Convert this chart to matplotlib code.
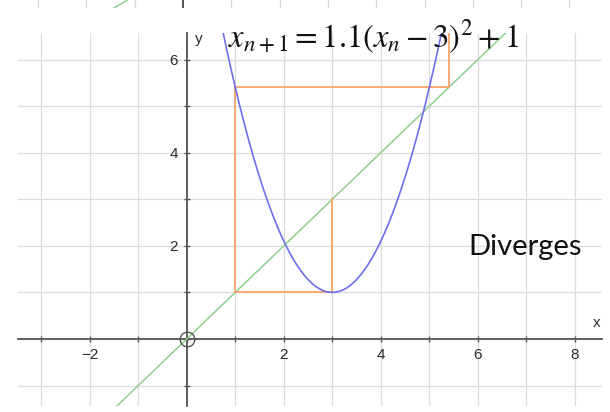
import numpy as np
import matplotlib.pyplot as plt
from matplotlib.ticker import MultipleLocator, FuncFormatter

# map x_{n+1} = a (x_n - h)^2 + k
a = 1.1
h = 3.0
k = 1.0
x_start = 3.0
n_steps = 3

xlim = (-3.48, 8.56)
ylim = (-1.44, 6.57)

def f(x):
    return a * (x - h) ** 2 + k

# cobweb path
cx = [x_start]
cy = [x_start]
xn = x_start
for i in range(n_steps):
    yn = f(xn)
    cx.append(xn)
    cy.append(yn)
    cx.append(yn)
    cy.append(yn)
    xn = yn
cx.append(xn)
cy.append(f(xn))

plt.rcParams["font.family"] = ["Liberation Sans", "DejaVu Sans"]
plt.rcParams["mathtext.fontset"] = "stix"

fig = plt.figure(figsize=(6.1, 4.12), dpi=100)

# leftover strip of another graph at the very top
top = fig.add_axes([0, 1 - 8 / 412, 1, 8 / 412])
top.set_xlim(-3.79, 8.84)
top.set_ylim(-1.43, -1.15)
for gx in range(-3, 9):
    if gx == 0:
        top.axvline(gx, color="#555555", lw=1.4)
    else:
        top.axvline(gx, color="#d9d9d9", lw=0.9)
tx = np.linspace(-1.5, -1.0, 10)
top.plot(tx, tx, color="#8fd08f", lw=1.1)
top.axis("off")

ax = fig.add_axes([18 / 610, 1 - 406 / 412, 584 / 610, 373 / 412])
ax.set_xlim(*xlim)
ax.set_ylim(*ylim)

ax.xaxis.set_major_locator(MultipleLocator(1))
ax.yaxis.set_major_locator(MultipleLocator(1))
ax.grid(True, color="#dcdcdc", lw=0.9)
ax.set_axisbelow(True)

def even_only(v, pos):
    iv = int(round(v))
    if iv == 0 or iv % 2:
        return ""
    return str(iv).replace("-", "\u2212")

ax.xaxis.set_major_formatter(FuncFormatter(even_only))
ax.yaxis.set_major_formatter(FuncFormatter(even_only))

for s in ["top", "right"]:
    ax.spines[s].set_visible(False)
for s in ["left", "bottom"]:
    ax.spines[s].set_position(("data", 0))
    ax.spines[s].set_color("#555555")
    ax.spines[s].set_linewidth(1.3)
ax.tick_params(direction="inout", length=5, width=1, color="#555555",
               labelsize=11, labelcolor="#2a2a2a", pad=4)

xs = np.linspace(xlim[0], xlim[1], 600)
ax.plot(xs, xs, color="#8fd08f", lw=1.1, zorder=3)
ax.plot(xs, f(xs), color="#6f6fee", lw=1.2, zorder=4)
ax.plot(cx, cy, color="#f4a46c", lw=1.3, zorder=3)

ax.plot([0], [0], marker="o", ms=10.5, mfc="none", mec="#555555", mew=1.0,
        zorder=5, clip_on=False)

ax.text(8.45, 0.2, "x", fontsize=11, color="#2a2a2a", ha="center", va="bottom")
ax.text(0.16, 6.45, "y", fontsize=11, color="#2a2a2a", ha="left", va="center")

fig.text(228 / 610, 1 - 48 / 412,
         r"$x_{n+1}=1.1\left(x_n-3\right)^2+1$",
         fontsize=23.5, ha="left", va="baseline", color="#111111")

ax.text(6.97, 1.8, "Diverges", family="Lato", fontsize=21,
        ha="center", va="baseline", color="#111111")

fig.savefig("out.png", dpi=100)
